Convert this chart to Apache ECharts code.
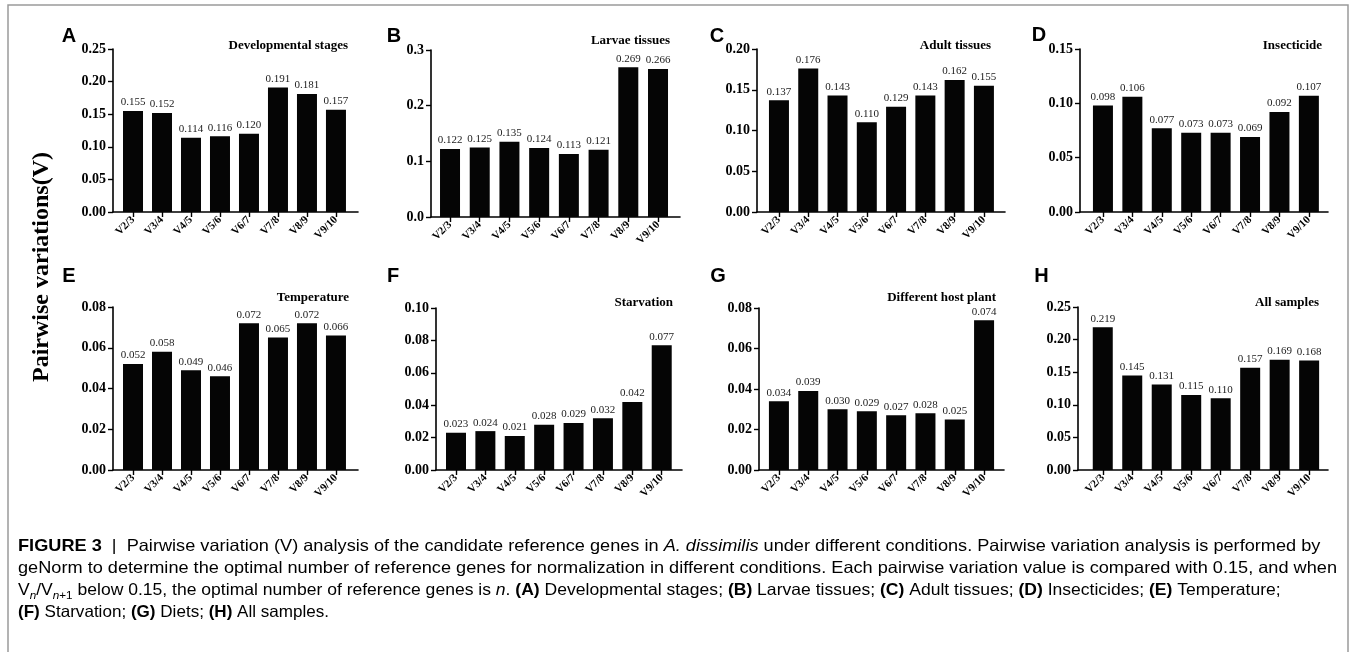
<!DOCTYPE html>
<html>
<head>
<meta charset="utf-8">
<script src="https://cdn.jsdelivr.net/npm/echarts@6/dist/echarts.min.js"></script>
<style>
html,body{margin:0;padding:0;background:#fff;}
#chart{width:1356px;height:652px;}
</style>
</head>
<body>
<div id="chart"></div>
<script>
// ---- data ----
const categories = ['V2/3','V3/4','V4/5','V5/6','V6/7','V7/8','V8/9','V9/10'];
const devStages   = [0.155, 0.152, 0.114, 0.116, 0.120, 0.191, 0.181, 0.157];
const larvae      = [0.122, 0.125, 0.135, 0.124, 0.113, 0.121, 0.269, 0.266];
const adult       = [0.137, 0.176, 0.143, 0.110, 0.129, 0.143, 0.162, 0.155];
const insecticide = [0.098, 0.106, 0.077, 0.073, 0.073, 0.069, 0.092, 0.107];
const temperature = [0.052, 0.058, 0.049, 0.046, 0.072, 0.065, 0.072, 0.066];
const starvation  = [0.023, 0.024, 0.021, 0.028, 0.029, 0.032, 0.042, 0.077];
const hostPlant   = [0.034, 0.039, 0.030, 0.029, 0.027, 0.028, 0.025, 0.074];
const allSamples  = [0.219, 0.145, 0.131, 0.115, 0.110, 0.157, 0.169, 0.168];
const panelTitles = ['Developmental stages','Larvae tissues','Adult tissues','Insecticide','Temperature','Starvation','Different host plant','All samples'];
const panelLetters = ['A','B','C','D','E','F','G','H'];
const yMax      = [0.25, 0.3, 0.20, 0.15, 0.08, 0.10, 0.08, 0.25];
const yInterval = [0.05, 0.1, 0.05, 0.05, 0.02, 0.02, 0.02, 0.05];
const yDecimals = [2, 1, 2, 2, 2, 2, 2, 2];
const seriesValues = [devStages, larvae, adult, insecticide, temperature, starvation, hostPlant, allSamples];

// ---- layout ----
const gridBoxes = [
  [113,49,245,163],[431,50,249,167],[757,49,248,163],[1080,49,248,163],
  [113,307,245,163],[436,308,246,162],[759,308,245,162],[1078,307,250,163]
];
const xExtents = [[-0.69,7.76],[-0.64,7.74],[-0.75,7.72],[-0.78,7.65],[-0.69,7.76],[-0.68,7.69],[-0.68,7.68],[-0.84,7.64]];
const titlePos  = [[348,46],[670,41],[991,46],[1322,46],[349,298],[673,303],[996,298],[1319,303]];
const letterPos = [[69,36],[394,36],[717,36.5],[1039,35],[69,276.5],[393,276],[718,276],[1041.5,276]];

const SERIF = '"Liberation Serif","Times New Roman",serif';
const SANS = '"Liberation Sans",Arial,sans-serif';

const chart = echarts.init(document.getElementById('chart'), null, {renderer:'canvas'});

const grid=[], xAxis=[], yAxis=[], series=[], graphic=[];
const ticks = categories.map((c,i)=>i);
for (let i=0;i<8;i++){
  const g = gridBoxes[i];
  grid.push({left:g[0], top:g[1], width:g[2], height:g[3], containLabel:false});
  xAxis.push({
    type:'value', gridIndex:i, min:xExtents[i][0], max:xExtents[i][1],
    splitLine:{show:false},
    axisLine:{show:true, onZero:false, lineStyle:{color:'#000', width:1.6}},
    axisTick:{show:true, customValues:ticks, length:5, lineStyle:{color:'#000', width:1.4}},
    axisLabel:{show:true, customValues:ticks, rotate:45, margin:6,
      formatter:v=>categories[Math.round(v)],
      fontFamily:SERIF, fontWeight:'bold', fontSize:11, color:'#000'}
  });
  yAxis.push({
    type:'value', gridIndex:i, min:0, max:yMax[i], interval:yInterval[i],
    splitLine:{show:false},
    axisLine:{show:true, onZero:false, lineStyle:{color:'#000', width:1.6}},
    axisTick:{show:true, length:5, lineStyle:{color:'#000', width:1.4}},
    axisLabel:{show:true, margin:7, formatter:(v)=>v.toFixed(yDecimals[i]),
      fontFamily:SERIF, fontWeight:'bold', fontSize:14, color:'#000'}
  });
  series.push({
    type:'bar', xAxisIndex:i, yAxisIndex:i,
    data: seriesValues[i].map((v,j)=>[j,v]),
    barWidth:20,
    itemStyle:{color:'#050505'},
    label:{show:true, position:'top', distance:3,
      formatter:p=>p.value[1].toFixed(3),
      fontFamily:SERIF, fontSize:11, color:'#222'}
  });
  graphic.push({type:'text', x:titlePos[i][0], y:titlePos[i][1],
    style:{text:panelTitles[i], font:'bold 13px '+SERIF, fill:'#000', textAlign:'right', textVerticalAlign:'middle'}});
  graphic.push({type:'text', x:letterPos[i][0], y:letterPos[i][1],
    style:{text:panelLetters[i], font:'bold 20px '+SANS, fill:'#000', textAlign:'center', textVerticalAlign:'middle'}});
}

// y-axis shared title
graphic.push({type:'text', x:42, y:267, rotation:Math.PI/2,
  style:{text:'Pairwise variations(V)', font:'bold 24px '+SERIF, fill:'#000', textAlign:'center', textVerticalAlign:'middle'}});

// outer frame
graphic.push({type:'rect', shape:{x:8,y:5,width:1340,height:720},
  style:{fill:'none', stroke:'#9a9a9a', lineWidth:1.5}, silent:true});

// caption
const capFont = 16.5;
const line2Plain = 'geNorm to determine the optimal number of reference genes for normalization in different conditions. Each pairwise variation value is compared with 0.15, and when';
const cv = document.createElement('canvas').getContext('2d');
cv.font = capFont+'px "Liberation Sans"';
const measured = cv.measureText(line2Plain).width;
const capScale = 1319/measured;
const lineAdjust = [1.0, 1.0, 0.966, 0.94];
const rich = {
  r:{fontFamily:SANS, fontSize:capFont, color:'#3a3a3a', lineHeight:22},
  b:{fontFamily:SANS, fontSize:capFont, fontWeight:'bold', color:'#222', lineHeight:22},
  i:{fontFamily:SANS, fontSize:capFont, fontStyle:'italic', color:'#3a3a3a', lineHeight:22},
  s:{fontFamily:SANS, fontSize:11, fontStyle:'italic', color:'#3a3a3a', lineHeight:11, verticalAlign:'bottom'},
  s2:{fontFamily:SANS, fontSize:11, color:'#3a3a3a', lineHeight:11, verticalAlign:'bottom'}
};
const capLines = [
  '{b|FIGURE 3}{r|  |  Pairwise variation (V) analysis of the candidate reference genes in }{i|A. dissimilis}{r| under different conditions. Pairwise variation analysis is performed by}',
  '{r|'+line2Plain+'}',
  '{r|V}{s|n}{r|/V}{s|n}{s2|+1}{r| below 0.15, the optimal number of reference genes is }{i|n}{r|. }{b|(A)}{r| Developmental stages; }{b|(B)}{r| Larvae tissues; }{b|(C)}{r| Adult tissues; }{b|(D)}{r| Insecticides; }{b|(E)}{r| Temperature;}',
  '{b|(F)}{r| Starvation; }{b|(G)}{r| Diets; }{b|(H)}{r| All samples.}'
];
const capY = [546, 568, 590, 612];
capLines.forEach((t,k)=>{
  graphic.push({type:'text', x:18, y:capY[k], scaleX:capScale*lineAdjust[k],
    style:{text:t, rich:rich, textAlign:'left', textVerticalAlign:'middle'}});
});

chart.setOption({
  animation:false,
  backgroundColor:'#fff',
  grid, xAxis, yAxis, series, graphic
});
</script>
</body>
</html>
